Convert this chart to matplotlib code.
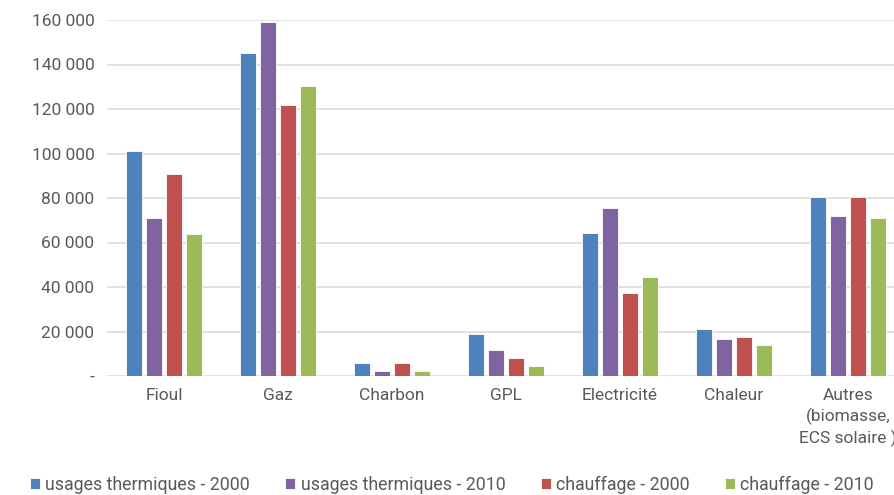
import numpy as np
import matplotlib.pyplot as plt
from matplotlib.ticker import FuncFormatter

# ---------- data ----------
categories = ["Fioul", "Gaz", "Charbon", "GPL", "Electricité", "Chaleur",
              "Autres\n(biomasse,\nECS solaire )"]
series_names = ["usages thermiques - 2000", "usages thermiques - 2010",
                "chauffage - 2000", "chauffage - 2010"]
therm_2000 = [101000, 145000, 6000, 18800, 64200, 21000, 80600]
therm_2010 = [71000, 159000, 2200, 11500, 75300, 16600, 72000]
chauf_2000 = [91000, 121800, 6000, 8000, 37500, 17500, 80600]
chauf_2010 = [64000, 130500, 2300, 4600, 44300, 14100, 71200]
colors = ["#4F81BD", "#8064A2", "#C0504D", "#9BBB59"]
yticks = [0, 20000, 40000, 60000, 80000, 100000, 120000, 140000, 160000]

plt.rcParams['font.family'] = ['Roboto', 'DejaVu Sans']
txt = "#595959"

fig = plt.figure(figsize=(8.95, 4.95), dpi=100)
# plot area runs past the right edge, as in the reference
ax = fig.add_axes([107/895, 1 - 376/495, 798/895, 356/495])

x = np.arange(len(categories))
pitch = 0.178
width = 0.14
for i, (vals, name, c) in enumerate(zip([therm_2000, therm_2010, chauf_2000, chauf_2010],
                                        series_names, colors)):
    ax.bar(x + (i - 1.5) * pitch, vals, width, color=c, label=name,
           edgecolor="white", linewidth=0.6, zorder=3)

ax.set_xlim(-0.5, len(categories) - 0.5)
ax.set_ylim(0, 160000)
ax.set_yticks(yticks)
ax.yaxis.set_major_formatter(FuncFormatter(
    lambda v, p: "-" if v == 0 else f"{int(v):,}".replace(",", " ")))
ax.set_xticks(x)
ax.set_xticklabels(categories, linespacing=1.35)
ax.tick_params(axis="both", length=0, labelsize=12.5, colors=txt, labelcolor=txt)
ax.tick_params(axis="y", pad=9)
ax.tick_params(axis="x", pad=9)
ax.grid(axis="y", color="#D9D9D9", linewidth=1.1, zorder=0)
for s in ax.spines.values():
    s.set_visible(False)

leg = fig.legend(loc="center", ncol=4, frameon=False, fontsize=12.8,
                 bbox_to_anchor=(0.505, 1 - 485/495), handlelength=0.55,
                 handleheight=0.55, handletextpad=0.3, columnspacing=2.0,
                 borderpad=0.1)
for t in leg.get_texts():
    t.set_color(txt)

fig.savefig("out.png", dpi=100)
